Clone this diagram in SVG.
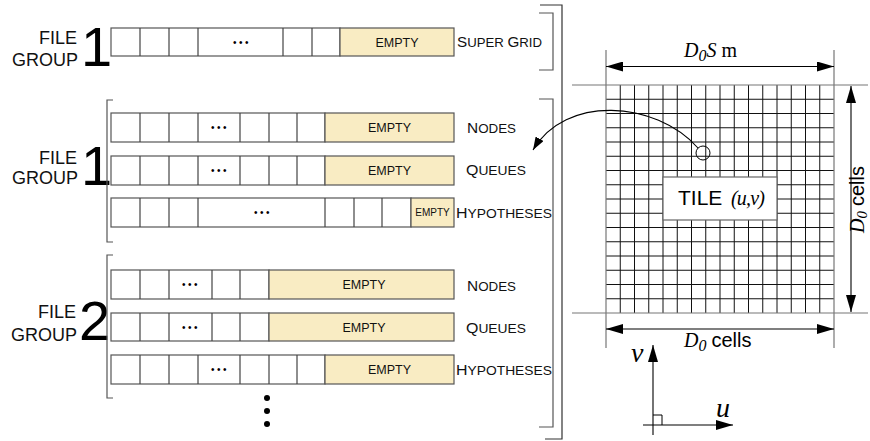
<svg xmlns="http://www.w3.org/2000/svg" width="870" height="441" viewBox="0 0 870 441">
<style>
.cell{fill:#fff;stroke:#555;stroke-width:1.2}
.empty{fill:#f9ecc3;stroke:#555;stroke-width:1.2}
.div{stroke:#444;stroke-width:1.2}
.et{font-family:"Liberation Sans",Arial,sans-serif;font-size:12.5px;text-anchor:middle;fill:#111}
.dots{font-family:"Liberation Sans",Arial,sans-serif;font-size:10px;letter-spacing:2.5px;text-anchor:middle;fill:#000}
.lbl{font-family:"Liberation Sans",Arial,sans-serif;font-size:13px;fill:#111}
.big{font-size:15px}
.fg{font-family:"Liberation Sans",Arial,sans-serif;font-size:18px;text-anchor:end;fill:#111}
.num{font-family:"Liberation Sans",Arial,sans-serif;font-size:56px;fill:#000}
.brk{fill:none;stroke:#555;stroke-width:1.2}
.grid{stroke:#111;stroke-width:1}
.bord{stroke:#777;stroke-width:1.2}
.dim{stroke:#000;stroke-width:1.1;fill:none}
.tm{font-family:"Liberation Serif","Times New Roman",serif;font-size:20px;fill:#000}
.it{font-style:italic}
.sans{font-family:"Liberation Sans",Arial,sans-serif}
</style>
<defs>
<marker id="ah" viewBox="0 0 17 10" refX="17" refY="5" markerWidth="17" markerHeight="10" orient="auto-start-reverse" markerUnits="userSpaceOnUse"><path d="M0,0 L17,5 L0,10 Z" fill="#000"/></marker>
<marker id="ah2" viewBox="0 0 13 9" refX="13" refY="4.5" markerWidth="13" markerHeight="9" orient="auto" markerUnits="userSpaceOnUse"><path d="M0,0 L13,4.5 L0,9 Z" fill="#000"/></marker>
</defs>
<rect width="870" height="441" fill="#fff"/>

<!-- File group labels -->
<g id="label-supergroup">
<text class="fg" x="77" y="44">FILE</text>
<text class="fg" x="78" y="66">GROUP</text>
<text class="num" x="81" y="66">1</text>
</g>
<g id="label-group1">
<text class="fg" x="77" y="164">FILE</text>
<text class="fg" x="78" y="184">GROUP</text>
<text class="num" x="81" y="185">1</text>
</g>
<g id="label-group2">
<text class="fg" x="76" y="318">FILE</text>
<text class="fg" x="77" y="341">GROUP</text>
<text class="num" x="79" y="340">2</text>
</g>

<!-- Super grid row -->
<g id="row-supergrid">
<rect class="cell" x="111" y="28" width="229" height="28"/>
<rect class="empty" x="340" y="28" width="114" height="28"/>
<path class="div" d="M140,28V56M169,28V56M198,28V56M283,28V56M312,28V56"/>
<text class="dots" x="242" y="46">•••</text>
<text class="et" x="397" y="46.5">EMPTY</text>
<text class="lbl" x="457" y="47" textLength="85" lengthAdjust="spacingAndGlyphs"><tspan class="big">S</tspan>UPER <tspan class="big">G</tspan>RID</text>
</g>

<!-- Group 1 -->
<g id="row-g1-nodes">
<rect class="cell" x="111" y="113" width="214" height="29"/>
<rect class="empty" x="325" y="113" width="129" height="29"/>
<path class="div" d="M140,113V142M169,113V142M198,113V142M240,113V142M269,113V142M297,113V142"/>
<text class="dots" x="220" y="131">•••</text>
<text class="et" x="389.5" y="132">EMPTY</text>
<text class="lbl" x="467" y="133" textLength="49" lengthAdjust="spacingAndGlyphs"><tspan class="big">N</tspan>ODES</text>
</g>
<g id="row-g1-queues">
<rect class="cell" x="111" y="156" width="214" height="29"/>
<rect class="empty" x="325" y="156" width="129" height="29"/>
<path class="div" d="M140,156V185M169,156V185M198,156V185M240,156V185M269,156V185M297,156V185"/>
<text class="dots" x="220" y="174">•••</text>
<text class="et" x="389.5" y="175">EMPTY</text>
<text class="lbl" x="466" y="175" textLength="60" lengthAdjust="spacingAndGlyphs"><tspan class="big">Q</tspan>UEUES</text>
</g>
<g id="row-g1-hyp">
<rect class="cell" x="111" y="198" width="300" height="29"/>
<rect class="empty" x="411" y="198" width="43" height="29"/>
<path class="div" d="M140,198V227M169,198V227M198,198V227M325,198V227M354,198V227M382,198V227"/>
<text class="dots" x="263" y="216">•••</text>
<text class="et" x="432.5" y="216" style="font-size:10px">EMPTY</text>
<text class="lbl" x="456" y="218" textLength="96" lengthAdjust="spacingAndGlyphs"><tspan class="big">H</tspan>YPOTHESES</text>
</g>

<!-- Group 2 -->
<g id="row-g2-nodes">
<rect class="cell" x="111" y="270" width="158" height="29"/>
<rect class="empty" x="269" y="270" width="185" height="29"/>
<path class="div" d="M140,270V299M169,270V299M212,270V299M240,270V299"/>
<text class="dots" x="191" y="288">•••</text>
<text class="et" x="364" y="289">EMPTY</text>
<text class="lbl" x="467" y="291" textLength="49" lengthAdjust="spacingAndGlyphs"><tspan class="big">N</tspan>ODES</text>
</g>
<g id="row-g2-queues">
<rect class="cell" x="111" y="313" width="158" height="28"/>
<rect class="empty" x="269" y="313" width="185" height="28"/>
<path class="div" d="M140,313V341M169,313V341M212,313V341M240,313V341"/>
<text class="dots" x="191" y="330.5">•••</text>
<text class="et" x="364" y="331.5">EMPTY</text>
<text class="lbl" x="466" y="333" textLength="60" lengthAdjust="spacingAndGlyphs"><tspan class="big">Q</tspan>UEUES</text>
</g>
<g id="row-g2-hyp">
<rect class="cell" x="111" y="355" width="214" height="29"/>
<rect class="empty" x="325" y="355" width="129" height="29"/>
<path class="div" d="M140,355V384M169,355V384M198,355V384M240,355V384M269,355V384M297,355V384"/>
<text class="dots" x="220" y="373">•••</text>
<text class="et" x="389.5" y="374">EMPTY</text>
<text class="lbl" x="456" y="375" textLength="96" lengthAdjust="spacingAndGlyphs"><tspan class="big">H</tspan>YPOTHESES</text>
</g>

<g id="more-dots" fill="#000">
<circle cx="267" cy="398" r="3"/>
<circle cx="267" cy="411" r="3"/>
<circle cx="267" cy="424" r="3"/>
</g>

<!-- Brackets -->
<g id="brackets">
<path class="brk" d="M113,100H107V242H113"/>
<path class="brk" d="M113,255H107V398H113"/>
<path class="brk" d="M539,13H553V70H539"/>
<path class="brk" d="M539,99H553V427H539"/>
<path class="brk" d="M540,5H562V439H545" style="stroke:#333"/>
</g>

<!-- Tile grid -->
<g id="tile-grid">
<path class="grid" d="M620.25,85V313M634.5,85V313M648.75,85V313M663,85V313M677.25,85V313M691.5,85V313M705.75,85V313M720,85V313M734.25,85V313M748.5,85V313M762.75,85V313M777,85V313M791.25,85V313M805.5,85V313M819.75,85V313"/>
<path class="grid" d="M606,99.25H834M606,113.5H834M606,127.75H834M606,142H834M606,156.25H834M606,170.5H834M606,184.75H834M606,199H834M606,213.25H834M606,227.5H834M606,241.75H834M606,256H834M606,270.25H834M606,284.5H834M606,298.75H834"/>
<path class="bord" d="M572,85H868M572,313H868M606,50V348M834,50V348"/>
</g>

<g id="tile-box">
<rect x="663" y="177" width="114" height="43" fill="#fff" stroke="#666" stroke-width="1.2"/>
<text x="678" y="205" class="sans" style="font-size:21px" fill="#000">TILE</text>
<text x="731" y="205" class="tm it" style="font-size:20px" letter-spacing="-0.8">(u,v)</text>
</g>

<g id="cell-marker">
<circle cx="703" cy="153" r="7" fill="none" stroke="#000" stroke-width="1"/>
</g>

<!-- Dimensions -->
<g id="dimensions">
<line class="dim" x1="606" y1="66.5" x2="834" y2="66.5" marker-start="url(#ah)" marker-end="url(#ah)"/>
<text class="tm" y="57"><tspan x="684" class="it">D</tspan><tspan class="it" style="font-size:16px" dy="4">0</tspan><tspan class="it" dy="-4">S</tspan><tspan> m</tspan></text>
<line class="dim" x1="606" y1="329" x2="834" y2="329" marker-start="url(#ah)" marker-end="url(#ah)"/>
<text class="tm" y="347"><tspan x="684" class="it">D</tspan><tspan class="it" style="font-size:16px" dy="4">0</tspan><tspan class="sans" dy="-4" dx="5" style="font-size:20px">cells</tspan></text>
<line class="dim" x1="851" y1="86" x2="851" y2="312" marker-start="url(#ah)" marker-end="url(#ah)"/>
<text class="tm" transform="translate(864,233) rotate(-90)"><tspan x="0" y="0" class="it">D</tspan><tspan class="it" style="font-size:15px" dy="3">0</tspan><tspan class="sans" dy="-3" dx="5" style="font-size:20px">cells</tspan></text>
</g>

<!-- Axes -->
<g id="axes">
<line class="dim" x1="653" y1="435" x2="653" y2="345" marker-end="url(#ah)"/>
<line class="dim" x1="643" y1="425" x2="733" y2="425" marker-end="url(#ah)"/>
<path d="M653,415H662V425" fill="none" stroke="#000" stroke-width="1"/>
<text class="tm it" x="631" y="362" style="font-size:28px">v</text>
<text class="tm it" x="716" y="417" style="font-size:28px">u</text>
</g>

<!-- Connector -->
<g id="connectors">
<path d="M698,148 C655,100 565,95 533,150" fill="none" stroke="#000" stroke-width="1.1" marker-end="url(#ah2)"/>
</g>
</svg>
